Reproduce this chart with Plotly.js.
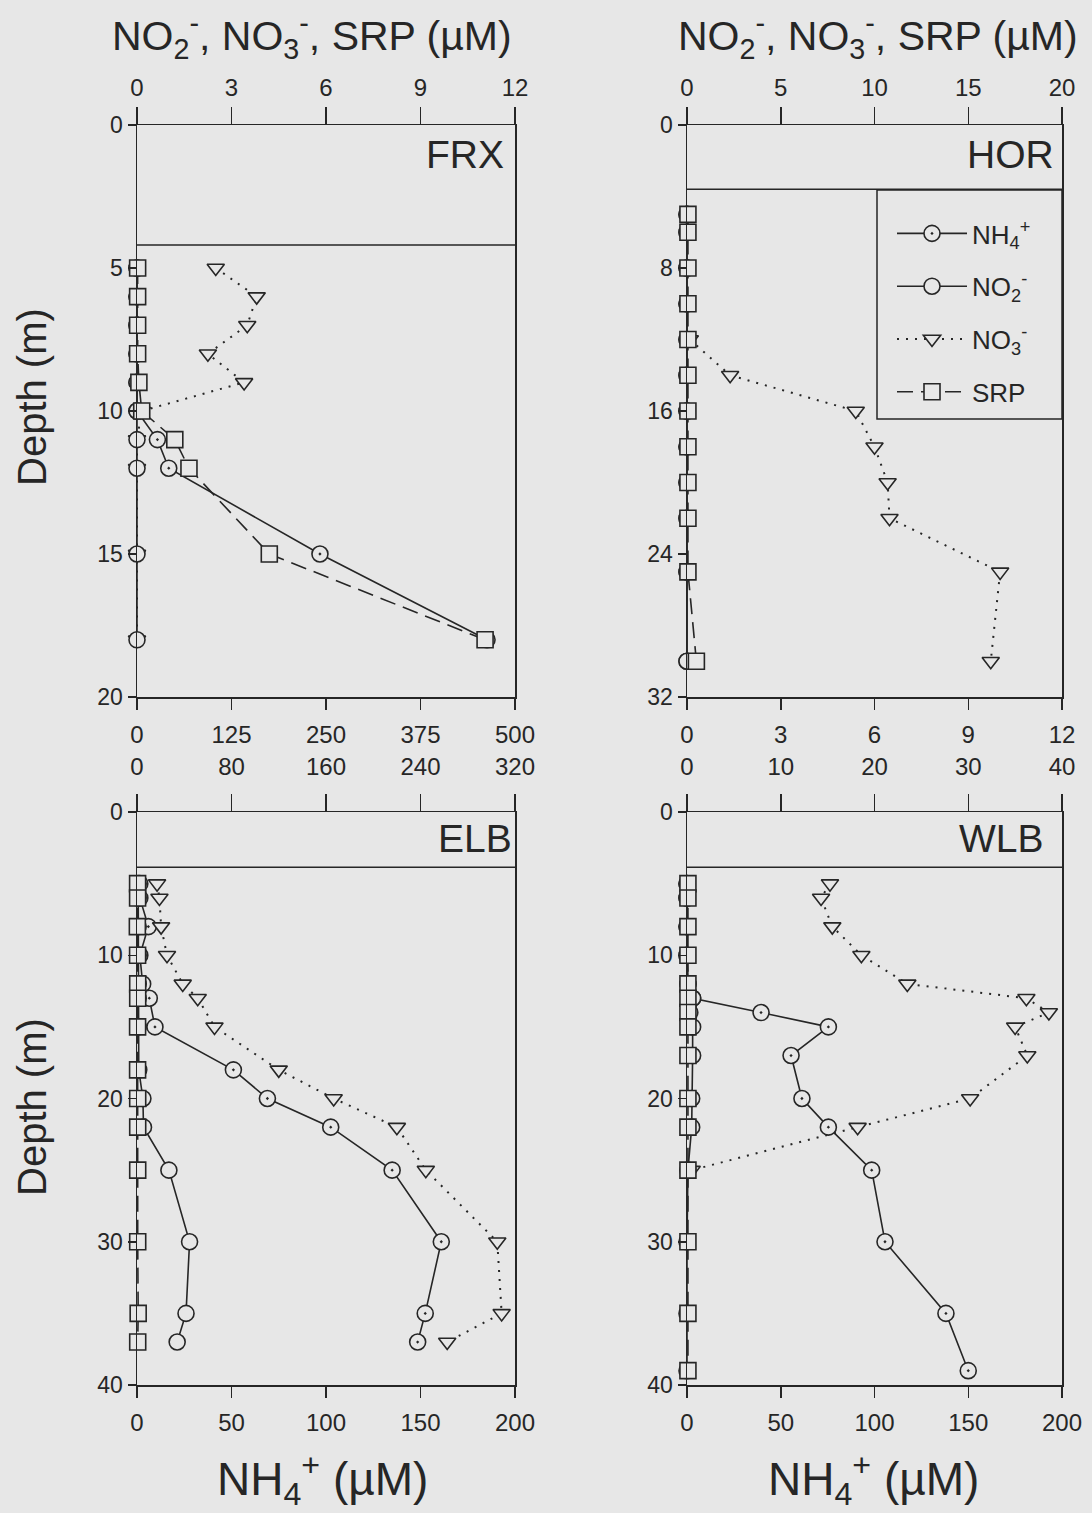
<!DOCTYPE html>
<html>
<head>
<meta charset="utf-8">
<script src="https://cdn.plot.ly/plotly-3.0.1.min.js"></script>
<style>
  html, body { margin: 0; padding: 0; background: #e7e7e7; }
  #chart { width: 1092px; height: 1513px; }
</style>
</head>
<body>
<div id="chart"></div>
<script>
// ---------------- DATA ----------------
// FRX (Fryxell) — depth (m)
const frxDepth = [5, 6, 7, 8, 9, 10, 11, 12, 15, 18];
const frxNH4   = [0, 0, 0, 0, 0, 0, 27, 42, 242, 463];            // bottom axis 0-500
const frxNO2   = [0, 0, 0, 0, 0, 0, 0, 0, 0, 0];                  // top axis 0-12
const frxNO3   = [2.5, 3.8, 3.5, 2.25, 3.4, 0.15, 0, 0, 0, 0];
const frxSRP   = [0.02, 0.02, 0.02, 0.02, 0.06, 0.15, 1.2, 1.65, 4.2, 11.05];

// HOR (Hoare)
const horDepth = [5, 6, 8, 10, 12, 14, 16, 18, 20, 22, 25, 30];
const horNH4   = [0, 0, 0, 0, 0, 0, 0, 0, 0, 0, 0, 0];           // bottom axis 0-12
const horNO2   = [0, 0, 0, 0, 0, 0, 0, 0, 0, 0, 0, 0];           // top axis 0-20
const horNO3   = [null, null, null, null, 0.15, 2.3, 9.0, 10.0, 10.7, 10.8, 16.7, 16.2];
const horSRP   = [0.05, 0.05, 0.05, 0.05, 0.05, 0.05, 0.05, 0.05, 0.05, 0.05, 0.05, 0.5];

// ELB (East Lobe Bonney)
const elbDepth = [5, 6, 8, 10, 12, 13, 15, 18, 20, 22, 25, 30, 35, 37];
const elbNH4   = [1.5, 1.5, 6, 1.5, 3, 6.5, 9.5, 51, 69, 102.5, 135, 161, 152.5, 148.5]; // bottom 0-200
const elbNO2   = [1, 1, 1, 1, 1, 1, 1, 1.5, 5, 5.5, 27, 44.5, 41.5, 34];               // top 0-320
const elbNO3   = [17, 19, 20.4, 25.4, 38.7, 51.4, 65.6, 120, 166.5, 220, 244.5, 305, 308.7, 262.6];
const elbSRP   = [0.5, 0.5, 0.3, 0.5, 0.6, 0.6, 0.5, 0.5, 0.6, 0.6, 0.6, 0.6, 1.0, 0.6];

// WLB (West Lobe Bonney)
const wlbDepth = [5, 6, 8, 10, 12, 13, 14, 15, 17, 20, 22, 25, 30, 35, 39];
const wlbNH4   = [0, 0, 0, 0, 0.5, 3, 39.5, 75.4, 55.5, 61.3, 75.4, 98.5, 105.6, 138.1, 150]; // bottom 0-200
const wlbNO2   = [0, 0, 0, 0, 0.1, 0.6, 0.3, 0.6, 0.6, 0.5, 0.5, 0.1, 0, 0, 0];            // top 0-40
const wlbNO3   = [15.25, 14.3, 15.5, 18.6, 23.5, 36.2, 38.6, 35.0, 36.3, 30.2, 18.2, 0.5, null, null, null];
const wlbSRP   = [0.1, 0.1, 0.1, 0.1, 0.1, 0.1, 0.1, 0.1, 0.1, 0.1, 0.1, 0.1, 0.1, 0.1, 0.1];

// Ice-cover line depth (m) for each panel
const panelNames = ["FRX", "HOR", "ELB", "WLB"];
const iceDepth   = [4.2, 3.6, 3.85, 3.85];

// Axis ranges / ticks
const nh4Max    = [500, 12, 200, 200];
const nh4Dtick  = [125, 3, 50, 50];
const topMax    = [12, 20, 320, 40];
const topDtick  = [3, 5, 80, 10];
const depthMax  = [20, 32, 40, 40];
const depthDtick= [5, 8, 10, 10];

// ---------------- STYLE ----------------
const W = 1092, H = 1513;
const px = x => x / W;
const py = y => 1 - y / H;
const BG = '#e7e7e7';
const INK = '#262626';
const FONT = 'Liberation Sans, Arial, sans-serif';

const xDomains = [[px(137), px(515)], [px(687), px(1062)], [px(137), px(515)], [px(687), px(1062)]];
const yDomains = [[py(697), py(125)], [py(697), py(125)], [py(1385), py(812)], [py(1385), py(812)]];
const topStandoff = [1, 1, 9, 9];

const panels = [
  {depth: frxDepth, nh4: frxNH4, no2: frxNO2, no3: frxNO3, srp: frxSRP},
  {depth: horDepth, nh4: horNH4, no2: horNO2, no3: horNO3, srp: horSRP},
  {depth: elbDepth, nh4: elbNH4, no2: elbNO2, no3: elbNO3, srp: elbSRP},
  {depth: wlbDepth, nh4: wlbNH4, no2: wlbNO2, no3: wlbNO3, srp: wlbSRP},
];

const traces = [];
const layout = {
  width: W, height: H,
  margin: {l: 0, r: 0, t: 0, b: 0},
  paper_bgcolor: BG, plot_bgcolor: BG,
  font: {family: FONT, color: INK, size: 24},
  showlegend: true,
  legend: {
    x: px(892), y: py(210), xanchor: 'left', yanchor: 'top',
    bgcolor: 'rgba(0,0,0,0)', borderwidth: 0,
    font: {family: FONT, size: 26, color: INK},
    itemwidth: 70, traceorder: 'grouped', tracegroupgap: 16
  },
  shapes: [], annotations: []
};

const lineCol = INK;
const mk = (symbol, size) => ({symbol: symbol, size: size, color: BG, line: {color: INK, width: 1.6}});

panels.forEach((p, i) => {
  const xb = 'x' + (2 * i + 1 === 1 ? '' : (2 * i + 1));
  const xt = 'x' + (2 * i + 2);
  const yy = 'y' + (i === 0 ? '' : (i + 1));
  const show = i === 0;
  traces.push({type: 'scatter', mode: 'lines+markers', name: 'NO<sub>3</sub><sup>-</sup>', legendgroup: 'c', legendrank: 3,
    x: p.no3, y: p.depth, xaxis: xt, yaxis: yy, showlegend: show, connectgaps: false,
    line: {color: lineCol, width: 2, dash: '2px,7px'}, marker: mk('triangle-down', 15), cliponaxis: false});
  traces.push({type: 'scatter', mode: 'lines+markers', name: 'NO<sub>2</sub><sup>-</sup>', legendgroup: 'b', legendrank: 2,
    x: p.no2, y: p.depth, xaxis: xt, yaxis: yy, showlegend: show,
    line: {color: lineCol, width: 1.6}, marker: mk('circle', 16), cliponaxis: false});
  traces.push({type: 'scatter', mode: 'lines+markers', name: 'NH<sub>4</sub><sup>+</sup>', legendgroup: 'a', legendrank: 1,
    x: p.nh4, y: p.depth, xaxis: xb, yaxis: yy, showlegend: show,
    line: {color: lineCol, width: 1.6}, marker: mk('circle-dot', 16), cliponaxis: false});
  traces.push({type: 'scatter', mode: 'lines+markers', name: 'SRP', legendgroup: 'd', legendrank: 4,
    x: p.srp, y: p.depth, xaxis: xt, yaxis: yy, showlegend: show,
    line: {color: lineCol, width: 1.6, dash: '16px,8px'}, marker: mk('square', 16), cliponaxis: false});

  const common = {showgrid: false, zeroline: false, showline: true, linecolor: INK, linewidth: 1.5,
    ticks: 'outside', tickcolor: INK, tickwidth: 1.5, tickfont: {family: FONT, size: 24, color: INK}, fixedrange: true};

  const xbName = 'xaxis' + (2 * i + 1 === 1 ? '' : (2 * i + 1));
  const xtName = 'xaxis' + (2 * i + 2);
  const yName = 'yaxis' + (i === 0 ? '' : (i + 1));
  layout[xbName] = Object.assign({}, common, {
    domain: xDomains[i], anchor: yy, side: 'bottom',
    range: [0, nh4Max[i]], autorange: false, tick0: 0, dtick: nh4Dtick[i], ticklen: 11, ticklabelstandoff: 5
  });
  layout[xtName] = Object.assign({}, common, {
    overlaying: xb, anchor: yy, side: 'top',
    range: [0, topMax[i]], autorange: false, tick0: 0, dtick: topDtick[i], ticklen: 17, ticklabelstandoff: topStandoff[i]
  });
  layout[yName] = Object.assign({}, common, {
    domain: yDomains[i], anchor: xb, side: 'left', mirror: true,
    range: [depthMax[i], 0], autorange: false, tick0: 0, dtick: depthDtick[i], ticklen: 8,
    tickfont: {family: FONT, size: 23, color: INK}
  });

  layout.shapes.push({type: 'line', xref: xb + ' domain', yref: yy, x0: 0, x1: 1,
    y0: iceDepth[i], y1: iceDepth[i], line: {color: INK, width: 1.5}});
});

// legend box
layout.shapes.push({type: 'rect', xref: 'paper', yref: 'paper',
  x0: px(877), x1: px(1062), y0: py(419), y1: py(190), line: {color: INK, width: 1.5}});

// panel labels
const labelPos = [[506, 155], [1056, 155], [514, 838], [1046, 838]];
panelNames.forEach((n, i) => {
  layout.annotations.push({text: n, xref: 'paper', yref: 'paper', x: px(labelPos[i][0]), y: py(labelPos[i][1]),
    xanchor: 'right', yanchor: 'middle', showarrow: false, font: {family: FONT, size: 39, color: INK}});
});

// axis titles
const topTitle = 'NO<sub>2</sub><sup>-</sup>, NO<sub>3</sub><sup>-</sup>, SRP (\u00b5M)';
[[312, 36], [878, 36]].forEach(pt => layout.annotations.push({text: topTitle, xref: 'paper', yref: 'paper',
  x: px(pt[0]), y: py(pt[1]), xanchor: 'center', yanchor: 'middle', showarrow: false,
  font: {family: FONT, size: 41, color: INK}}));
const botTitle = 'NH<sub>4</sub><sup>+</sup> (\u00b5M)';
[[322, 1479], [873, 1479]].forEach(pt => layout.annotations.push({text: botTitle, xref: 'paper', yref: 'paper',
  x: px(pt[0]), y: py(pt[1]), xanchor: 'center', yanchor: 'middle', showarrow: false,
  font: {family: FONT, size: 46, color: INK}}));
[[32, 397], [32, 1107]].forEach(pt => layout.annotations.push({text: 'Depth (m)', xref: 'paper', yref: 'paper',
  x: px(pt[0]), y: py(pt[1]), xanchor: 'center', yanchor: 'middle', textangle: -90, showarrow: false,
  font: {family: FONT, size: 40, color: INK}}));

Plotly.newPlot('chart', traces, layout, {displayModeBar: false, staticPlot: true});
</script>
</body>
</html>
